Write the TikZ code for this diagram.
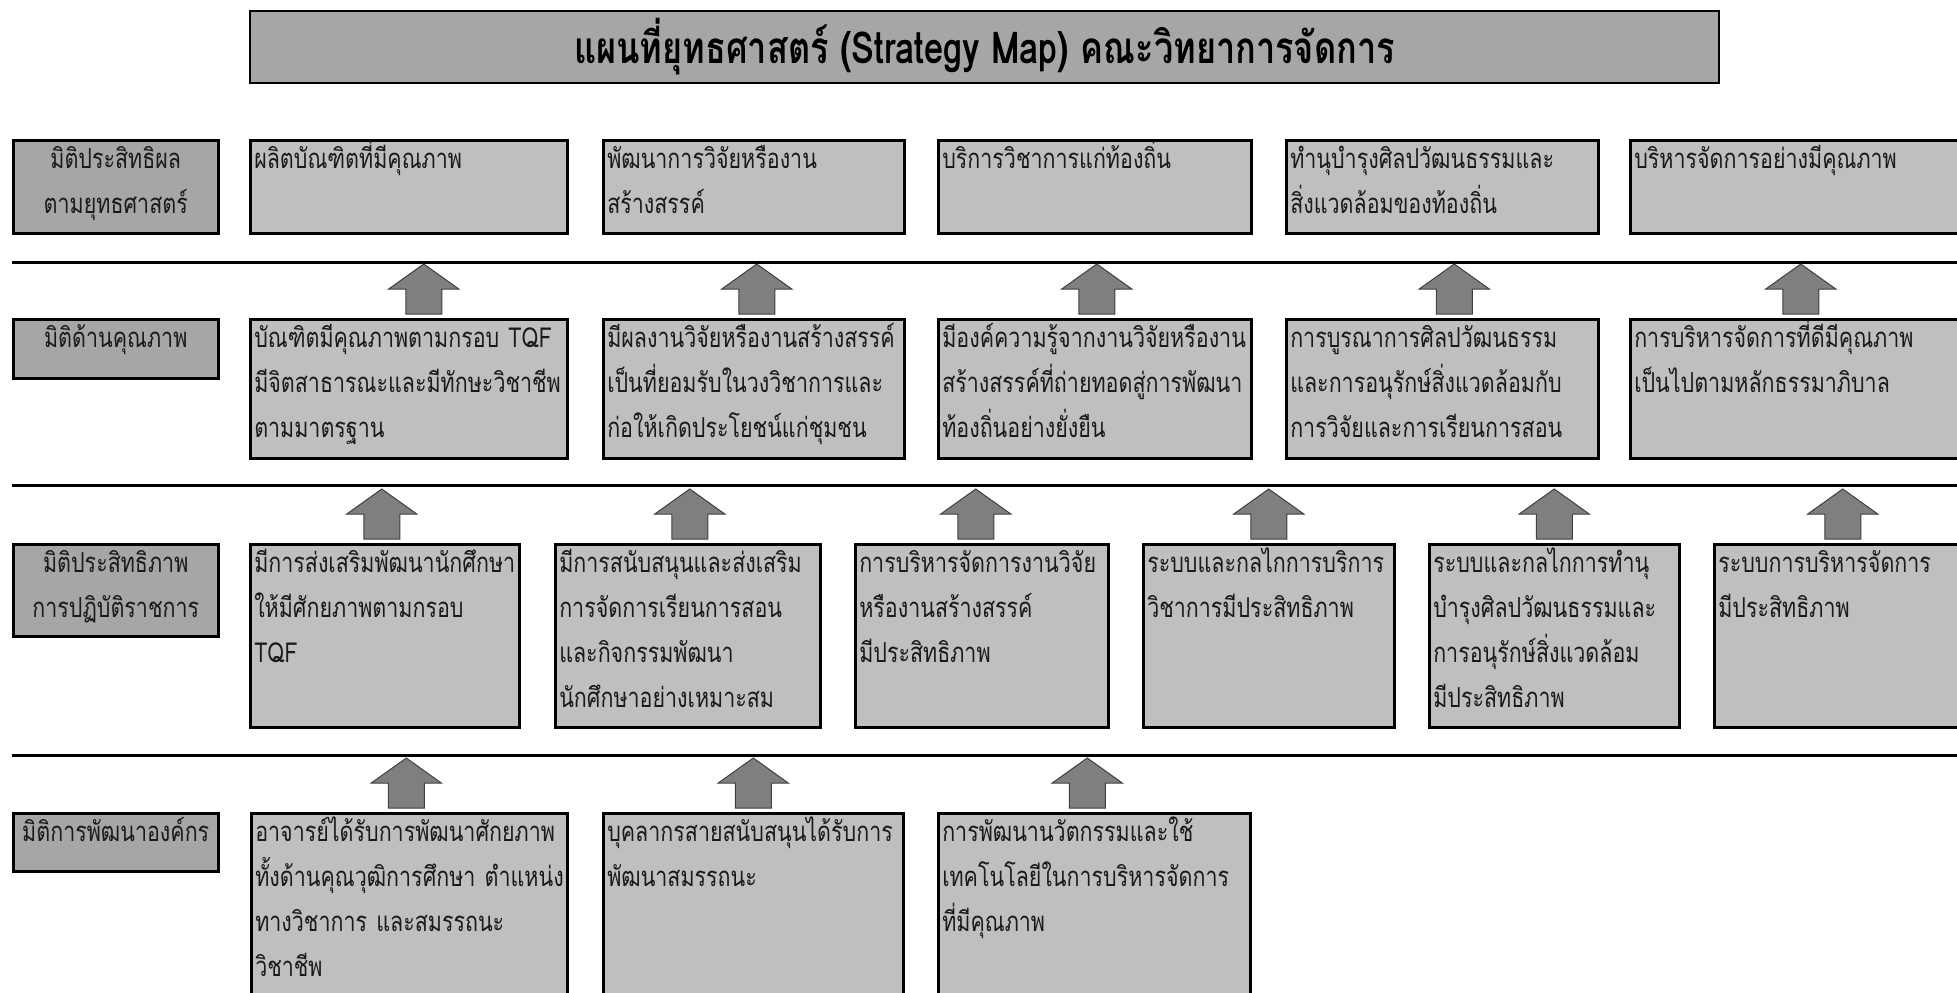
\documentclass[tikz,border=0pt]{standalone}
\usepackage{fontspec}
\setmainfont[Script=Thai, FakeStretch=0.78]{Loma}
\newfontfamily\thaifont[Script=Thai, FakeStretch=0.78]{Loma}
\definecolor{labelgray}{HTML}{A6A6A6}
\definecolor{boxgray}{HTML}{BFBFBF}
\definecolor{arrowgray}{HTML}{7F7F7F}
\definecolor{arrowedge}{HTML}{404040}
\definecolor{textgray}{HTML}{1A1A1A}
\newcommand{\bodyfnt}{\thaifont\fontsize{27.5}{45}\selectfont}
\newcommand{\titlefnt}{\thaifont\bfseries\fontsize{44}{50}\selectfont}
\tikzset{
  cbox/.style={draw=black, line width=2.5pt, fill=boxgray, anchor=north west,
    inner xsep=4pt, inner ysep=3pt, align=left, text height=25pt, font=\bodyfnt, text=textgray},
  lbox/.style={cbox, fill=labelgray, align=center},
  titlebox/.style={draw=black, line width=2.5pt, fill=labelgray, minimum width=1469pt,
    minimum height=72pt, inner sep=0pt, font=\titlefnt},
  sepline/.style={line width=3pt, draw=black},
  blockarrow/.style={fill=arrowgray, draw=arrowedge, line width=1pt, line join=miter}
}
% block arrow rising from the top of a box; #2 = horizontal offset
\newcommand{\uparrowfrom}[2]{\draw[blockarrow] (#1.north) ++(#2-18,-4) -- ++(0,-25) -- ++(-17,0) -- ++(35,-25) -- ++(35,25) -- ++(-17,0) -- ++(0,25) -- cycle;}
\begin{document}
\begin{tikzpicture}[x=1pt,y=-1pt]
\useasboundingbox (0,0) rectangle (1957,993);
\clip (0,0) rectangle (1957,993);

% title
\node[titlebox] (T) at (984.5,47) {แผนที่ยุทธศาสตร์ (Strategy Map) คณะวิทยาการจัดการ};

% separator lines
\coordinate (s1l) at (12,262); \coordinate (s1r) at (1957,262);
\coordinate (s2l) at (12,485); \coordinate (s2r) at (1957,485);
\coordinate (s3l) at (12,755); \coordinate (s3r) at (1957,755);
\draw[sepline] (s1l) -- (s1r);
\draw[sepline] (s2l) -- (s2r);
\draw[sepline] (s3l) -- (s3r);

% row 1
\node[lbox, text width=197pt, text depth=62pt] (L1) at (12,139) {มิติประสิทธิผล\\ตามยุทธศาสตร์};
\node[cbox, text width=309pt, text depth=62pt] (A1) at (249,139) {ผลิตบัณฑิตที่มีคุณภาพ};
\node[cbox, text width=293pt, text depth=62pt] (A2) at (602,139) {พัฒนาการวิจัยหรืองาน\\สร้างสรรค์};
\node[cbox, text width=305pt, text depth=62pt] (A3) at (937,139) {บริการวิชาการแก่ท้องถิ่น};
\node[cbox, text width=304pt, text depth=62pt] (A4) at (1285,139) {ทำนุบำรุงศิลปวัฒนธรรมและ\\สิ่งแวดล้อมของท้องถิ่น};
\node[cbox, text width=333pt, text depth=62pt] (A5) at (1629,139) {บริหารจัดการอย่างมีคุณภาพ};

% row 2
\node[lbox, text width=197pt, text depth=28pt] (L2) at (12,318) {มิติด้านคุณภาพ};
\node[cbox, text width=309pt, text depth=108pt] (B1) at (249,318) {บัณฑิตมีคุณภาพตามกรอบ~TQF\\มีจิตสาธารณะและมีทักษะวิชาชีพ\\ตามมาตรฐาน};
\node[cbox, text width=293pt, text depth=108pt] (B2) at (602,318) {มีผลงานวิจัยหรืองานสร้างสรรค์\\เป็นที่ยอมรับในวงวิชาการและ\\ก่อให้เกิดประโยชน์แก่ชุมชน};
\node[cbox, text width=305pt, text depth=108pt] (B3) at (937,318) {มีองค์ความรู้จากงานวิจัยหรืองาน\\สร้างสรรค์ที่ถ่ายทอดสู่การพัฒนา\\ท้องถิ่นอย่างยั่งยืน};
\node[cbox, text width=304pt, text depth=108pt] (B4) at (1285,318) {การบูรณาการศิลปวัฒนธรรม\\และการอนุรักษ์สิ่งแวดล้อมกับ\\การวิจัยและการเรียนการสอน};
\node[cbox, text width=333pt, text depth=108pt] (B5) at (1629,318) {การบริหารจัดการที่ดีมีคุณภาพ\\เป็นไปตามหลักธรรมาภิบาล};

% row 3
\node[lbox, text width=197pt, text depth=61pt] (L3) at (12,543) {มิติประสิทธิภาพ\\การปฏิบัติราชการ};
\node[cbox, text width=261pt, text depth=152pt] (C1) at (249,543) {มีการส่งเสริมพัฒนานักศึกษา\\ให้มีศักยภาพตามกรอบ\\TQF};
\node[cbox, text width=257pt, text depth=152pt] (C2) at (554,543) {มีการสนับสนุนและส่งเสริม\\การจัดการเรียนการสอน\\และกิจกรรมพัฒนา\\นักศึกษาอย่างเหมาะสม};
\node[cbox, text width=245pt, text depth=152pt] (C3) at (854,543) {การบริหารจัดการงานวิจัย\\หรืองานสร้างสรรค์\\มีประสิทธิภาพ};
\node[cbox, text width=243pt, text depth=152pt] (C4) at (1142,543) {ระบบและกลไกการบริการ\\วิชาการมีประสิทธิภาพ};
\node[cbox, text width=242pt, text depth=152pt] (C5) at (1428,543) {ระบบและกลไกการทำนุ\\บำรุงศิลปวัฒนธรรมและ\\การอนุรักษ์สิ่งแวดล้อม\\มีประสิทธิภาพ};
\node[cbox, text width=249pt, text depth=152pt] (C6) at (1713,543) {ระบบการบริหารจัดการ\\มีประสิทธิภาพ};

% row 4
\node[lbox, text width=197pt, text depth=27pt] (L4) at (12,812) {มิติการพัฒนาองค์กร};
\node[cbox, text width=308pt, text depth=160pt] (D1) at (250,812) {อาจารย์ได้รับการพัฒนาศักยภาพ\\ทั้งด้านคุณวุฒิการศึกษา~ตำแหน่ง\\ทางวิชาการ~และสมรรถนะ\\วิชาชีพ};
\node[cbox, text width=292pt, text depth=160pt] (D2) at (602,812) {บุคลากรสายสนับสนุนได้รับการ\\พัฒนาสมรรถนะ};
\node[cbox, text width=304pt, text depth=160pt] (D3) at (937,812) {การพัฒนานวัตกรรมและใช้\\เทคโนโลยีในการบริหารจัดการ\\ที่มีคุณภาพ};

% arrows (from lower box up toward the row above)
\uparrowfrom{B1}{15}\uparrowfrom{B2}{3}\uparrowfrom{B3}{2}\uparrowfrom{B4}{12}\uparrowfrom{B5}{0}
\uparrowfrom{C1}{-3}\uparrowfrom{C2}{2}\uparrowfrom{C3}{-6}\uparrowfrom{C4}{0}\uparrowfrom{C5}{0}\uparrowfrom{C6}{0}
\uparrowfrom{D1}{-3}\uparrowfrom{D2}{0}\uparrowfrom{D3}{-7}
\end{tikzpicture}
\end{document}
